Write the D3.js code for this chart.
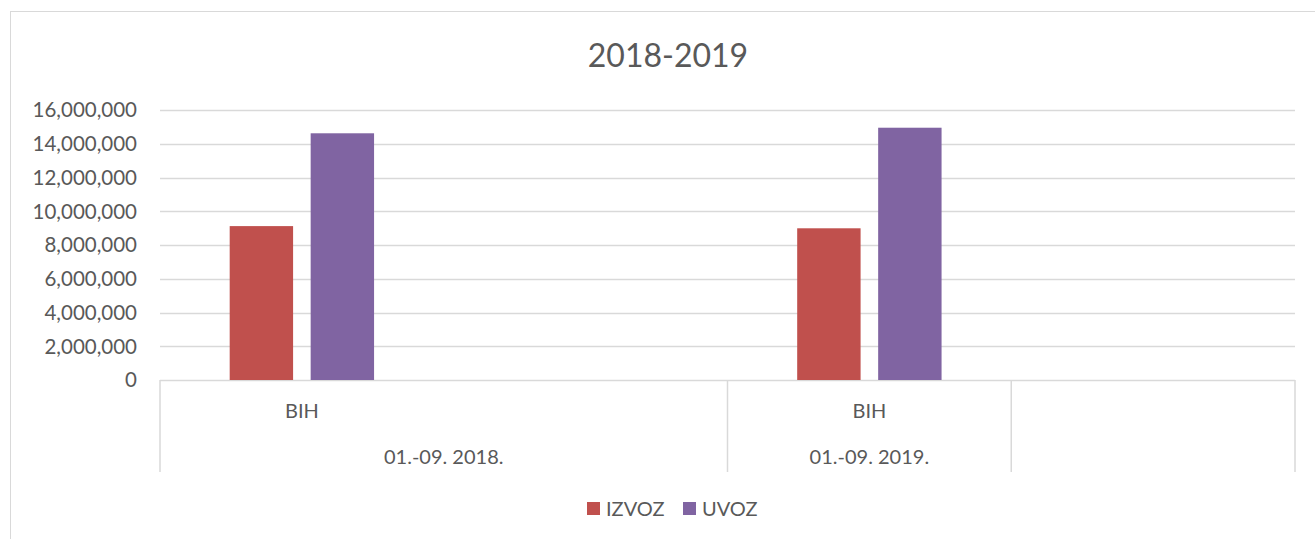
<!DOCTYPE html>
<html>
<head>
<meta charset="utf-8">
<script src="https://cdnjs.cloudflare.com/ajax/libs/d3/7.8.5/d3.min.js"></script>
<style>
  body { margin: 0; background: #fff; }
  svg text { font-family: Lato, "Open Sans", sans-serif; fill: #595959; }
</style>
</head>
<body>
<script>
// chart data
var periods = ["01.-09. 2018.", "01.-09. 2018.", "01.-09. 2019.", ""];
var countries = ["BIH", "", "BIH", ""];
var seriesNames = ["IZVOZ", "UVOZ"];
var izvoz = [9120000, null, 8990000, null];
var uvoz = [14620000, null, 14950000, null];
var yTicks = [0, 2000000, 4000000, 6000000, 8000000, 10000000, 12000000, 14000000, 16000000];
var colors = ["#C0504D", "#8064A2"];

var width = 1315, height = 539;
var margin = {left: 160, right: 20, top: 110, bottom: 159};

var svg = d3.select("body").append("svg")
  .attr("width", width)
  .attr("height", height);

// chart frame
svg.append("rect")
  .attr("x", 10.5).attr("y", 11.5)
  .attr("width", width).attr("height", height)
  .attr("fill", "none")
  .attr("stroke", "#D9D9D9")
  .attr("stroke-width", 1);

svg.append("text")
  .attr("x", 668).attr("y", 67)
  .attr("text-anchor", "middle")
  .style("font-size", "32px")
  .text("2018-2019");

var slots = d3.range(countries.length);

var x0 = d3.scaleBand()
  .domain(slots)
  .range([margin.left, width - margin.right]);

var bw = x0.bandwidth();
var x1 = d3.scaleBand()
  .domain(seriesNames)
  .range([bw * 0.2456, bw * 0.7544])
  .paddingInner(0.217);

var y = d3.scaleLinear()
  .domain([0, 16000000])
  .range([height - margin.bottom, margin.top]);

// gridlines
svg.append("g")
  .selectAll("line")
  .data(yTicks)
  .enter().append("line")
  .attr("x1", margin.left)
  .attr("x2", width - margin.right)
  .attr("y1", function(d) { return Math.round(y(d)) + 0.5; })
  .attr("y2", function(d) { return Math.round(y(d)) + 0.5; })
  .attr("stroke", "#D9D9D9")
  .attr("stroke-width", 1.5);

// y axis labels
svg.append("g")
  .selectAll("text")
  .data(yTicks)
  .enter().append("text")
  .attr("x", 137)
  .attr("y", function(d) { return y(d); })
  .attr("dy", "0.36em")
  .attr("text-anchor", "end")
  .style("font-size", "20.5px")
  .text(d3.format(","));

// bars
var rows = slots.map(function(i) {
  return [{s: 0, v: izvoz[i]}, {s: 1, v: uvoz[i]}];
});

svg.append("g")
  .selectAll("g")
  .data(rows)
  .enter().append("g")
  .attr("transform", function(d, i) { return "translate(" + x0(i) + ",0)"; })
  .selectAll("rect")
  .data(function(d) { return d.filter(function(e) { return e.v != null; }); })
  .enter().append("rect")
  .attr("x", function(d) { return x1(seriesNames[d.s]); })
  .attr("width", x1.bandwidth())
  .attr("y", function(d) { return y(d.v); })
  .attr("height", function(d) { return y(0) - y(d.v); })
  .attr("fill", function(d) { return colors[d.s]; });

// multi-level category axis
var axisTop = y(0), axisBottom = 472;
var seps = [0, 2, 3, 4];
svg.append("g")
  .selectAll("line")
  .data(seps)
  .enter().append("line")
  .attr("x1", function(d) { return d < slots.length ? x0(d) : x0.range()[1]; })
  .attr("x2", function(d) { return d < slots.length ? x0(d) : x0.range()[1]; })
  .attr("y1", axisTop)
  .attr("y2", axisBottom)
  .attr("stroke", "#D9D9D9")
  .attr("stroke-width", 1.5);

svg.append("g")
  .selectAll("text")
  .data(slots)
  .enter().append("text")
  .attr("x", function(i) { return x0(i) + bw / 2; })
  .attr("y", 418)
  .attr("text-anchor", "middle")
  .style("font-size", "20px")
  .text(function(i) { return countries[i]; });

// outer groups
var groups = [];
periods.forEach(function(p, i) {
  var last = groups[groups.length - 1];
  if (last && last.name === p) last.end = i;
  else groups.push({name: p, start: i, end: i});
});

svg.append("g")
  .selectAll("text")
  .data(groups)
  .enter().append("text")
  .attr("x", function(g) { return (x0(g.start) + x0(g.end) + bw) / 2; })
  .attr("y", 464)
  .attr("text-anchor", "middle")
  .style("font-size", "20px")
  .text(function(g) { return g.name; });

// legend
var legend = svg.append("g");
var legendX = [587, 683];
seriesNames.forEach(function(name, i) {
  legend.append("rect")
    .attr("x", legendX[i]).attr("y", 502)
    .attr("width", 13).attr("height", 13)
    .attr("fill", colors[i]);
  legend.append("text")
    .attr("x", legendX[i] + 19).attr("y", 508.5)
    .attr("dy", "0.36em")
    .style("font-size", "20px")
    .text(name);
});
</script>
</body>
</html>
